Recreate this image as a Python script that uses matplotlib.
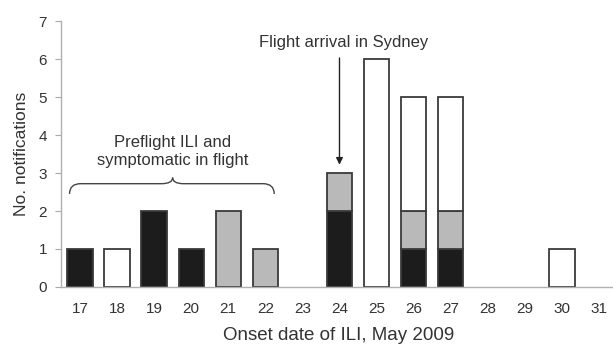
import matplotlib
matplotlib.use("Agg")
import matplotlib.pyplot as plt
from matplotlib.path import Path
from matplotlib.patches import PathPatch

# onset dates (May 2009) and notification counts by category
days   = [17, 18, 19, 20, 21, 22, 23, 24, 25, 26, 27, 28, 29, 30, 31]
black  = [1, 0, 2, 1, 0, 0, 0, 2, 0, 1, 1, 0, 0, 0, 0]
grey   = [0, 0, 0, 0, 2, 1, 0, 1, 0, 1, 1, 0, 0, 0, 0]
white  = [0, 1, 0, 0, 0, 0, 0, 0, 6, 3, 3, 0, 0, 1, 0]

plt.rcParams["font.family"] = ["Liberation Sans", "DejaVu Sans"]

fig = plt.figure(figsize=(6.13, 3.47), dpi=100)
ax = fig.add_axes([0.0995, 0.173, 0.905, 0.766])

W = 0.68
EC = "#3a3a3a"
kw = dict(width=W, edgecolor=EC, linewidth=1.3)
bot2 = [b + g for b, g in zip(black, grey)]
for d, b, g, w, b2 in zip(days, black, grey, white, bot2):
    if b: ax.bar(d, b, color="#1c1c1c", **kw)
    if g: ax.bar(d, g, bottom=b, color="#b9b9b9", **kw)
    if w: ax.bar(d, w, bottom=b2, color="white", **kw)

ax.set_xlim(16.49, 31.45)
ax.set_ylim(0, 7)
ax.set_xticks(days)
ax.set_xticklabels([str(d) for d in days])
ax.set_yticks(range(8))
ax.tick_params(axis="x", length=0, pad=11, labelsize=11, colors="#333")
ax.tick_params(axis="y", length=4, width=0.8, color="#aaaaaa", pad=6,
               labelsize=11, labelcolor="#333")
for s in ["top", "right"]:
    ax.spines[s].set_visible(False)
for s in ["left", "bottom"]:
    ax.spines[s].set_color("#b0b0b0")
    ax.spines[s].set_linewidth(1.0)

ax.set_ylabel("No. notifications", fontsize=12.5, color="#333", labelpad=7)
ax.set_xlabel("Onset date of ILI, May 2009", fontsize=13.5, color="#333", labelpad=8)

# arrival arrow
ax.annotate("", xy=(24, 3.22), xytext=(24, 6.03),
            arrowprops=dict(arrowstyle="-|>", color="#222", lw=1.0,
                            mutation_scale=10, shrinkA=0, shrinkB=0))
ax.text(24.1, 6.45, "Flight arrival in Sydney", ha="center", va="center",
        fontsize=12, color="#333")

# curly brace over 17-22
x0, x1, xm = 16.72, 22.24, 19.5
yb, yl, yt = 2.45, 2.72, 2.88
r = 0.3
verts = [(x0, yb), (x0, yl), (x0 + r, yl),
         (xm - r, yl), (xm, yl), (xm, yt),
         (xm, yl), (xm + r, yl),
         (x1 - r, yl), (x1, yl), (x1, yb)]
codes = [Path.MOVETO, Path.CURVE3, Path.CURVE3,
         Path.LINETO, Path.CURVE3, Path.CURVE3,
         Path.CURVE3, Path.CURVE3,
         Path.LINETO, Path.CURVE3, Path.CURVE3]
ax.add_patch(PathPatch(Path(verts, codes), fill=False, edgecolor="#444", lw=1.0))
ax.text(xm, 3.57, "Preflight ILI and\nsymptomatic in flight", ha="center",
        va="center", fontsize=12, color="#333", linespacing=1.3)

fig.savefig("out.png", dpi=100)
